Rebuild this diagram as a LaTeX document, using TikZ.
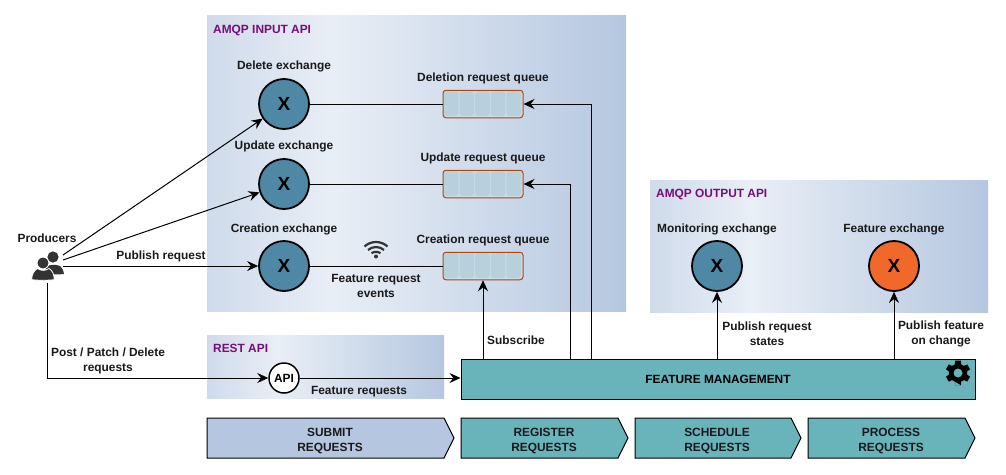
\documentclass[tikz,border=0pt]{standalone}
\usepackage{fontspec}
\setmainfont{Liberation Sans}
\usetikzlibrary{arrows.meta,calc}
\definecolor{exblue}{HTML}{4F88A5}
\definecolor{exorange}{HTML}{F0692B}
\definecolor{fmteal}{HTML}{69B3BB}
\definecolor{subblue}{HTML}{B5C7E0}
\definecolor{cellblue}{HTML}{B8D0DC}
\definecolor{cellgap}{HTML}{CADCE5}
\definecolor{qborder}{HTML}{B0440F}
\definecolor{apipurple}{HTML}{7A0C78}
\definecolor{icondark}{HTML}{333333}
\pgfdeclarehorizontalshading{panelshade}{100bp}{
  color(0bp)=(subblue!65!white);
  color(25bp)=(subblue!65!white);
  color(40bp)=(subblue!30!white);
  color(75bp)=(subblue);
  color(100bp)=(subblue)}
\tikzset{
  x=1pt,y=-1pt,
  lbl/.style={font=\fontsize{11.9}{15}\selectfont\bfseries,align=center,inner sep=0pt,text=black!90,yshift=-0.6pt},
  paneltitle/.style={font=\fontsize{11.9}{13}\selectfont\bfseries,text=apipurple,anchor=west,inner sep=0pt},
  panel/.style={shading=panelshade,draw=none},
  exch/.style={circle,draw=black,line width=1.8pt,minimum size=50pt,inner sep=0pt,font=\fontsize{19}{20}\selectfont\bfseries},
  apinode/.style={circle,draw=black,fill=white,line width=1.5pt,minimum size=30pt,inner sep=0pt,font=\fontsize{11.9}{13}\selectfont\bfseries},
  queuebox/.style={rectangle,rounded corners=3pt,draw=qborder,line width=1pt,fill=cellgap,minimum width=80pt,minimum height=27.5pt,inner sep=0pt},
  qcell/.style={rounded corners=2.5pt,fill=cellblue,draw=none},
  conn/.style={draw=black,line width=1pt},
  arr/.style={conn,-{Stealth[length=11pt,width=10pt,inset=3.8pt]}},
  stage/.style={draw=black,line width=1pt},
}
\newcommand{\qcells}[1]{%
  \foreach \i in {0,...,4}{
    \fill[qcell] ($(#1.north west)+(1.5+15.6*\i,1.5)$) rectangle ++(14.6,24.5);
  }}
\begin{document}
\begin{tikzpicture}
\useasboundingbox (0,0) rectangle (1006,474);
% panels
\path[panel] (207,15) rectangle (626,311);
\path[panel] (650,180) rectangle (988,312);
\path[panel] (207,335) rectangle (444,398);
\node[paneltitle] (tinput) at (213,30.8) {AMQP INPUT API};
\node[paneltitle] (toutput) at (656,194.3) {AMQP OUTPUT API};
\node[paneltitle] (trest) at (213,348.5) {REST API};
% exchanges
\node[exch,fill=exblue] (delx) at (284,104) {X};
\node[exch,fill=exblue] (updx) at (284,184) {X};
\node[exch,fill=exblue] (crex) at (284,266) {X};
\node[exch,fill=exblue] (monx) at (717,266) {X};
\node[exch,fill=exorange] (feax) at (894,266) {X};
\node[lbl] (ldel) at (284,66) {Delete exchange};
\node[lbl] (lupd) at (284,146) {Update exchange};
\node[lbl] (lcre) at (284,229) {Creation exchange};
\node[lbl] (lmon) at (717,229) {Monitoring exchange};
\node[lbl] (lfea) at (894,229) {Feature exchange};
% queues
\node[queuebox] (delq) at (483,104) {};
\node[queuebox] (updq) at (483,184) {};
\node[queuebox] (creq) at (483,266) {};
\qcells{delq}\qcells{updq}\qcells{creq}
\node[lbl] (ldq) at (483,78) {Deletion request queue};
\node[lbl] (luq) at (483,158) {Update request queue};
\node[lbl] (lcq) at (483,240) {Creation request queue};
% API, FM
\node[apinode] (api) at (284,378) {API};
\node[draw=black,line width=1pt,fill=fmteal,minimum width=514pt,minimum height=40pt,inner sep=0pt,font=\fontsize{11.9}{13}\selectfont\bfseries] (fm) at (718,379) {FEATURE MANAGEMENT};
% gear
\fill[black,even odd rule] (958,373) circle (4.6)
 ($(958,373)+(76:12.6)$)
 \foreach \a in {90,150,...,450}{
   -- ($(958,373)+(\a-13:12.6)$) -- ($(958,373)+(\a+13:12.6)$)
   -- ($(958,373)+(\a+20:9.2)$) -- ($(958,373)+(\a+40:9.2)$)
 } -- cycle;
% stages
\path[stage,fill=subblue] (207,418) -- (444,418) -- (454,438) -- (444,458) -- (207,458) -- cycle;
\path[stage,fill=fmteal] (461,418) -- (618,418) -- (628,438) -- (618,458) -- (461,458) -- cycle;
\path[stage,fill=fmteal] (635,418) -- (791,418) -- (801,438) -- (791,458) -- (635,458) -- cycle;
\path[stage,fill=fmteal] (808,418) -- (965,418) -- (975,438) -- (965,458) -- (808,458) -- cycle;
\node[lbl] (st1) at (330,440) {SUBMIT\\REQUESTS};
\node[lbl] (st2) at (544,440) {REGISTER\\REQUESTS};
\node[lbl] (st3) at (717,440) {SCHEDULE\\REQUESTS};
\node[lbl] (st4) at (891,440) {PROCESS\\REQUESTS};
% producers icon
\node[lbl] (prod) at (47,238) {Producers};
\fill[icondark] (53,257) circle (5.6);
\fill[icondark] (44.5,268) .. controls (47,264) and (59,264) .. (61,267) .. controls (63,269) and (63.5,271) .. (64,274) .. controls (60,274.5) and (54,274.5) .. (50,274) -- cycle;
\fill[icondark,draw=white,line width=0.8pt] (43,263) circle (5.9);
\fill[icondark,draw=white,line width=0.8pt] (31.6,279.6) .. controls (32,274) and (34,270.5) .. (37.5,268.5) .. controls (41,271) and (45.5,271) .. (49,268.5) .. controls (52.5,270.5) and (54,274) .. (54.3,279.6) .. controls (48,280.5) and (38,280.5) .. (31.6,279.6) -- cycle;
\coordinate (pa) at (63,255);
\coordinate (pb) at (63,260);
\coordinate (pc) at (63,266);
\coordinate (pd) at (47,283);
% connectors
\draw[arr] (pa) -- (delx);
\draw[arr] (pb) -- (updx);
\draw[arr] (pc) -- (crex);
\draw[arr] (pd) |- (api);
\draw[arr] (api) -- (api -| fm.west);
\draw[conn] (delx) -- (delq);
\draw[conn] (updx) -- (updq);
\draw[conn] (crex) -- (creq);
\coordinate (fa) at (483,359);
\coordinate (fb) at (570,359);
\coordinate (fc) at (591,359);
\coordinate (fd) at (717,359);
\coordinate (fe) at (894,359);
\draw[arr] (fa) -- (creq.south -| fa);
\draw[arr] (fb) |- (updq.east);
\draw[arr] (fc) |- (delq.east);
\draw[arr] (fd) -- (monx);
\draw[arr] (fe) -- (feax);
% labels
\node[lbl] (lpub) at (161,256) {Publish request};
\node[lbl] (lpost) at (108,360.5) {Post / Patch / Delete\\requests};
\node[lbl] (lfr) at (359,391) {Feature requests};
\node[lbl] (lfre) at (376,285.5) {Feature request\\events};
\node[lbl] (lsub) at (516,340) {Subscribe};
\node[lbl] (lprs) at (767,333) {Publish request\\states};
\node[lbl] (lpfc) at (941,333) {Publish feature\\on change};
% wifi icon
\begin{scope}[icondark,line width=2.2pt]
\draw (364.5,246.5) .. controls (371,240.5) and (381,240.5) .. (387.5,246.5);
\draw (368,250) .. controls (372.5,246) and (379.5,246) .. (384,250);
\draw (371.5,253.2) .. controls (374,251.4) and (378,251.4) .. (380.5,253.2);
\fill (376,256.5) circle (2);
\end{scope}
\end{tikzpicture}
\end{document}
